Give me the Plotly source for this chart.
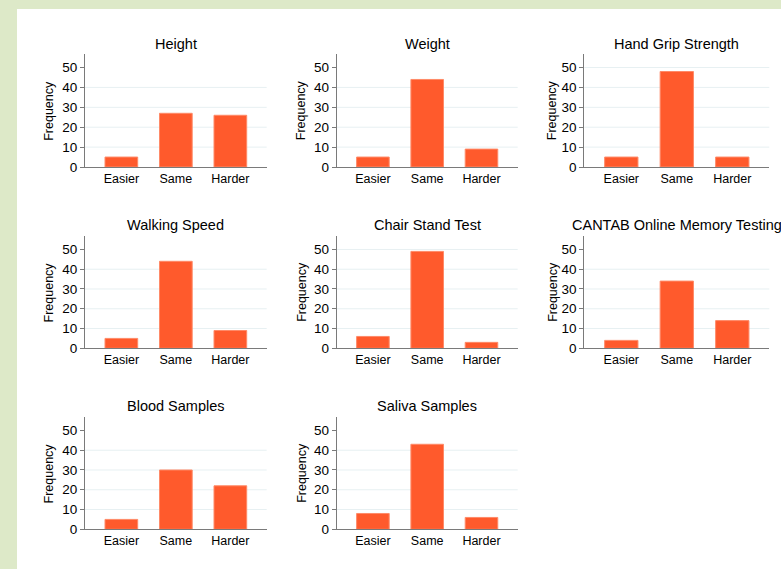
import plotly.graph_objects as go

# Response categories shared by every panel
categories = ["Easier", "Same", "Harder"]

panel_titles = [
    "Height",
    "Weight",
    "Hand Grip Strength",
    "Walking Speed",
    "Chair Stand Test",
    "CANTAB Online Memory Testing",
    "Blood Samples",
    "Saliva Samples",
]

# Frequencies per panel (Easier, Same, Harder)
height = [5, 27, 26]
weight = [5, 44, 9]
hand_grip = [5, 48, 5]
walking_speed = [5, 44, 9]
chair_stand = [6, 49, 3]
cantab = [4, 34, 14]
blood = [5, 30, 22]
saliva = [8, 43, 6]

panel_values = [height, weight, hand_grip, walking_speed,
                chair_stand, cantab, blood, saliva]

y_ticks = [0, 10, 20, 30, 40, 50]
y_tick_labels = ["0", "10", "20", "30", "40", "50"]

# ---- layout geometry (pixels of a 781 x 569 page) ----
W, H = 781, 569
col_px = [(85, 266.7), (336.7, 517.7), (584.3, 769.3)]
row_px = [(54, 167), (236, 348.3), (417, 529.3)]   # (top, bottom)
title_y_px = [44, 225, 406]
ytitle_x_px = [49.3, 301.7, 552.7]

BAR = "#ff5a2c"
BAR_EDGE = "#ff8a68"
AXIS = "#7a7a7a"
GRID = "#e7f0f2"
TEXT = "#000000"
FONT = "Liberation Sans, Arial, Helvetica, sans-serif"

fig = go.Figure()
layout = dict(
    template="none",
    width=W, height=H, autosize=False,
    margin=dict(l=0, r=0, t=0, b=0, pad=0, autoexpand=False),
    paper_bgcolor="#dde9c8",
    plot_bgcolor="white",
    showlegend=False,
    font=dict(family=FONT, color=TEXT, size=12.5),
    bargap=0.4,
)

shapes = [
    # white page area inside the green frame
    dict(type="rect", xref="paper", yref="paper",
         x0=17 / W, x1=1, y0=0, y1=1 - 9 / H,
         fillcolor="white", line=dict(width=0), layer="below"),
]
annotations = []

for i, (title, vals) in enumerate(zip(panel_titles, panel_values)):
    r, c = divmod(i, 3)
    n = i + 1
    xa = "x" if n == 1 else f"x{n}"
    ya = "y" if n == 1 else f"y{n}"
    x0, x1 = col_px[c]
    top, bot = row_px[r]
    xdom = [x0 / W, x1 / W]
    ydom = [1 - bot / H, 1 - top / H]

    fig.add_trace(go.Bar(
        x=categories, y=vals, xaxis=xa, yaxis=ya,
        marker=dict(color=BAR, line=dict(color=BAR_EDGE, width=1)),
        width=0.6, hoverinfo="x+y",
    ))

    layout["xaxis" if n == 1 else f"xaxis{n}"] = dict(
        domain=xdom, anchor=ya, type="category",
        range=[-0.667, 2.667], automargin=False,
        showline=True, linecolor=AXIS, linewidth=1,
        ticks="", showgrid=False, zeroline=False,
        tickfont=dict(size=12.5, color=TEXT),
        fixedrange=True,
    )
    layout["yaxis" if n == 1 else f"yaxis{n}"] = dict(
        domain=ydom, anchor=xa,
        range=[0, 56.8], automargin=False,
        tickvals=y_ticks, ticktext=y_tick_labels,
        showline=True, linecolor=AXIS, linewidth=1,
        ticks="outside", ticklen=4, tickcolor=AXIS, tickwidth=1,
        showgrid=False, zeroline=False,
        tickfont=dict(size=13.5, color=TEXT),
        fixedrange=True,
    )

    # light horizontal reference lines; the tallest panels reach 50
    levels = [10, 20, 30, 40] + ([50] if max(vals) >= 48 else [])
    for lv in levels:
        shapes.append(dict(
            type="line", xref=f"{xa} domain", yref=ya,
            x0=0, x1=1, y0=lv, y1=lv,
            line=dict(color=GRID, width=1), layer="below",
        ))

    annotations.append(dict(
        text=title, xref="paper", yref="paper",
        x=(x0 + x1) / 2 / W, y=1 - title_y_px[r] / H,
        xanchor="center", yanchor="middle", showarrow=False,
        font=dict(size=14.5, color=TEXT),
    ))
    annotations.append(dict(
        text="Frequency", xref="paper", yref="paper",
        x=ytitle_x_px[c] / W, y=1 - (top + bot) / 2 / H,
        xanchor="center", yanchor="middle", showarrow=False,
        textangle=-90, font=dict(size=12.5, color=TEXT),
    ))

layout["shapes"] = shapes
layout["annotations"] = annotations
fig.update_layout(**layout)

fig.write_html("out.html", config={"displayModeBar": False})
